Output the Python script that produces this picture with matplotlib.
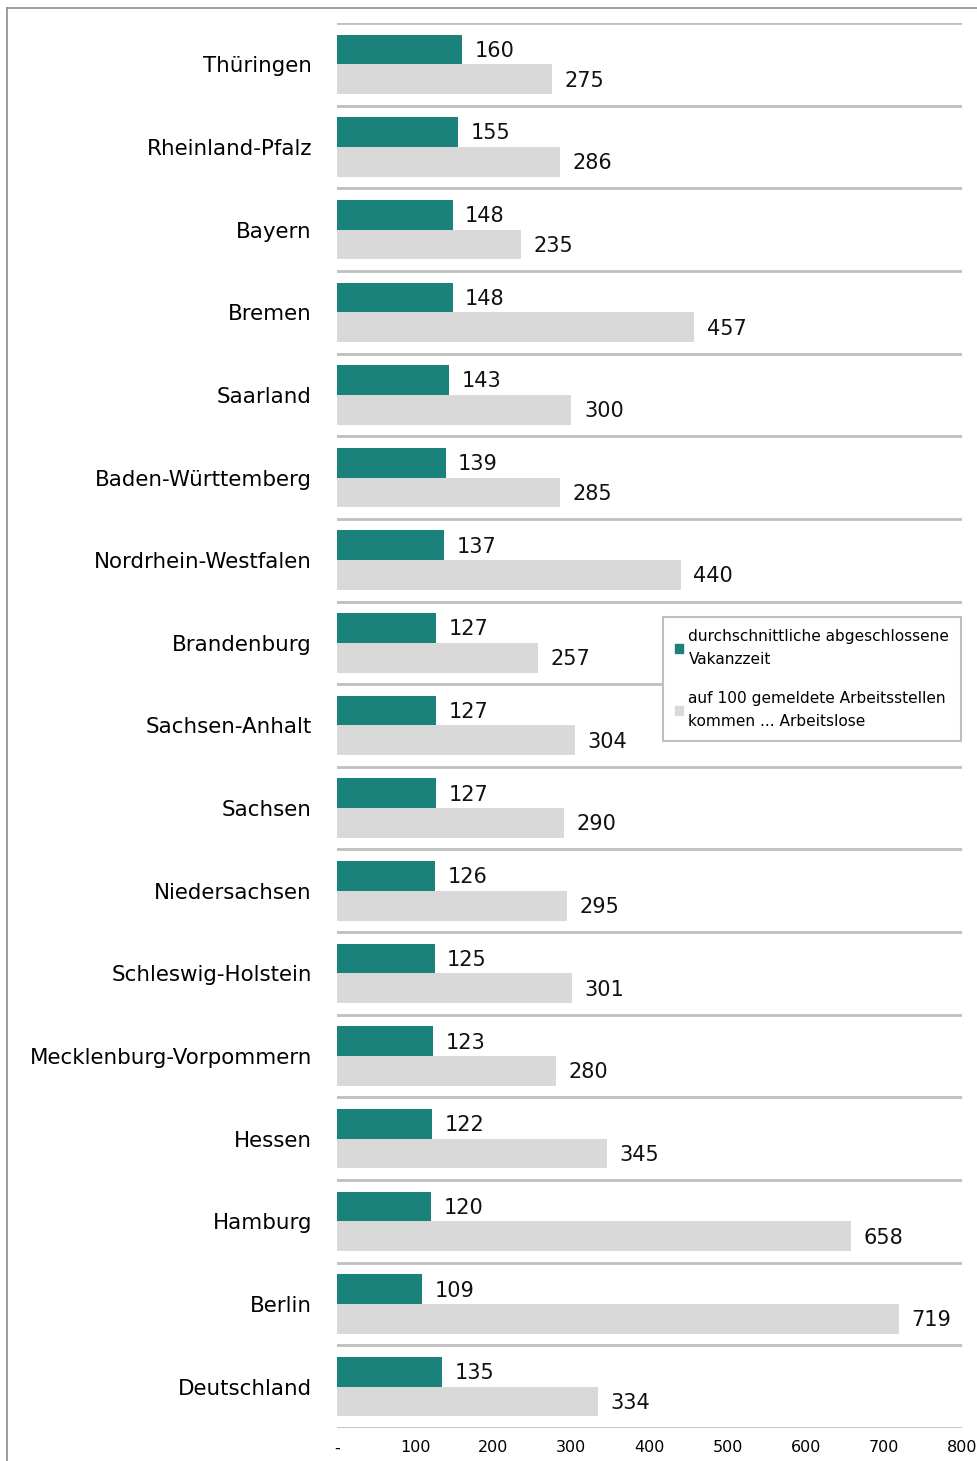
import matplotlib
matplotlib.use("Agg")
import matplotlib.pyplot as plt
from matplotlib.lines import Line2D
import numpy as np

categories = ["Thüringen", "Rheinland-Pfalz", "Bayern", "Bremen", "Saarland",
              "Baden-Württemberg", "Nordrhein-Westfalen", "Brandenburg",
              "Sachsen-Anhalt", "Sachsen", "Niedersachsen", "Schleswig-Holstein",
              "Mecklenburg-Vorpommern", "Hessen", "Hamburg", "Berlin", "Deutschland"]
vakanzzeit = [160, 155, 148, 148, 143, 139, 137, 127, 127, 127, 126, 125, 123, 122, 120, 109, 135]
arbeitslose = [275, 286, 235, 457, 300, 285, 440, 257, 304, 290, 295, 301, 280, 345, 658, 719, 334]
xticks = [0, 100, 200, 300, 400, 500, 600, 700, 800]
xticklabels = ["-", "100", "200", "300", "400", "500", "600", "700", "800"]
legend_labels = ["durchschnittliche abgeschlossene\nVakanzzeit",
                 "auf 100 gemeldete Arbeitsstellen\nkommen ... Arbeitslose"]

TEAL = "#1a827b"
GRAY = "#d9d9d9"
GRID = "#bfbfbf"

plt.rcParams['font.family'] = ['DejaVu Sans']

W, H = 978, 1461
fig = plt.figure(figsize=(W / 100, H / 100), dpi=100)
ax = fig.add_axes([337 / W, 1 - 1428 / H, (962 - 337) / W, (1428 - 23) / H])

n = len(categories)
y = np.arange(n)
h = 0.36
ax.barh(y - h / 2, vakanzzeit, height=h, color=TEAL, zorder=2)
ax.barh(y + h / 2, arbeitslose, height=h, color=GRAY, zorder=2)

for yi, v in zip(y, vakanzzeit):
    ax.annotate(f"{v}", (v, yi - h / 2), xytext=(9, -1), textcoords="offset points",
                va="center", ha="left", fontsize=15, color="#111111")
for yi, v in zip(y, arbeitslose):
    ax.annotate(f"{v}", (v, yi + h / 2), xytext=(9, -1), textcoords="offset points",
                va="center", ha="left", fontsize=15, color="#111111")

ax.set_xlim(0, 800)
ax.set_ylim(n - 0.5, -0.5)
ax.set_yticks(y)
ax.set_yticklabels(categories, fontsize=15.4)
ax.set_xticks(xticks)
ax.set_xticklabels(xticklabels, fontsize=11.5)
ax.tick_params(axis="y", length=0, pad=18)
ax.tick_params(axis="x", length=0, pad=9)
for s in ax.spines.values():
    s.set_visible(False)
for b in np.arange(-0.5, n, 1.0):
    ax.axhline(b, color=GRID, lw=2, zorder=1)

handles = [plt.Rectangle((0, 0), 1, 1, color=TEAL), plt.Rectangle((0, 0), 1, 1, color=GRAY)]
leg = fig.legend(handles, legend_labels, loc="upper left",
                 bbox_to_anchor=(663 / W, 1 - 617 / H), fontsize=11.1,
                 frameon=True, fancybox=False, edgecolor="#bfbfbf", framealpha=1,
                 handlelength=0.55, handleheight=0.55, handletextpad=0.35,
                 labelspacing=1.55, borderpad=0.75, borderaxespad=0)
for t in leg.get_texts():
    t.set_linespacing(1.7)
leg.get_frame().set_linewidth(1.5)
leg.set_zorder(10)

fig.add_artist(Line2D([7 / W, 7 / W], [0, 1 - 8 / H], color="#8c8c8c", lw=1.2))
fig.add_artist(Line2D([7 / W, 1], [1 - 8 / H, 1 - 8 / H], color="#8c8c8c", lw=1.2))

fig.savefig("out.png", dpi=100)
